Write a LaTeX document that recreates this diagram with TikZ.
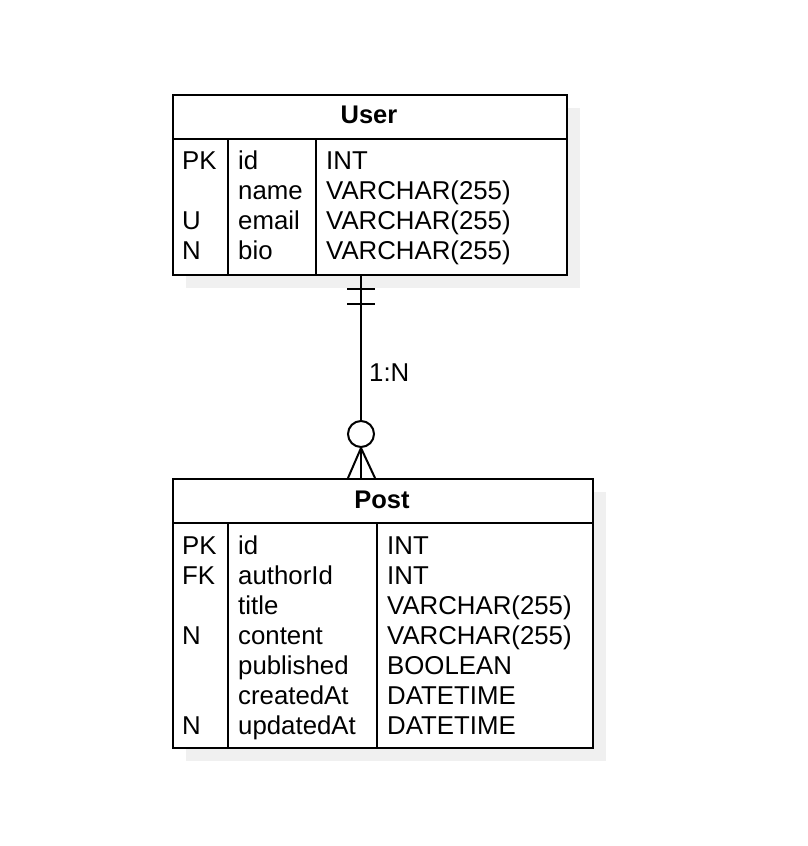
\documentclass[tikz,border=0pt]{standalone}
\usepackage{fontspec}
\setmainfont{Liberation Sans}
\usetikzlibrary{calc}
\definecolor{shadowgray}{RGB}{240,240,240}

\begin{document}
\begin{tikzpicture}[
  x=1pt, y=-1pt,
  entity/.style={draw, line width=2pt, anchor=north west, inner sep=0pt},
  grid/.style={line width=1.5pt},
  title/.style={anchor=base, inner sep=0pt, font=\fontsize{25.5}{30}\selectfont\bfseries},
  cell/.style={anchor=base west, inner sep=0pt, font=\fontsize{25.8}{30}\selectfont},
  rel/.style={line width=2pt},
]
\useasboundingbox (0,0) rectangle (808,846);

% Shadows
\fill[shadowgray] (186,108) rectangle (580,288);
\fill[shadowgray] (186,492) rectangle (606,761);

% Tables
\node[entity, fill=white, minimum width=394pt, minimum height=180pt] (user) at (172,94) {};
\node[entity, fill=white, minimum width=420pt, minimum height=269pt] (post) at (172,478) {};
\node[title] (usertitle) at (369,123) {User};
\node[title] (posttitle) at (382,508) {Post};

\draw[rel] ($(user.north west)+(0,45)$) -- ($(user.north east)+(0,45)$);
\draw[grid] (228,139) -- (228,274);
\draw[grid] (316,139) -- (316,274);
\draw[rel] ($(post.north west)+(0,45)$) -- ($(post.north east)+(0,45)$);
\draw[grid] (228,523) -- (228,747);
\draw[grid] (377,523) -- (377,747);

% Columns
\foreach \k/\n/\t [count=\i from 0] in {PK/id/INT, /name/VARCHAR(255), U/email/VARCHAR(255), N/bio/VARCHAR(255)} {
  \node[cell] (userkey\i) at (182,169+30*\i) {\k};
  \node[cell] (username\i) at (238,169+30*\i) {\n};
  \node[cell] (usertype\i) at (326,169+30*\i) {\t};
}
\foreach \k/\n/\t [count=\i from 0] in {PK/id/INT, FK/authorId/INT, /title/VARCHAR(255), N/content/VARCHAR(255), /published/BOOLEAN, /createdAt/DATETIME, N/updatedAt/DATETIME} {
  \node[cell] (postkey\i) at (182,554+30*\i) {\k};
  \node[cell] (postname\i) at (238,554+30*\i) {\n};
  \node[cell] (posttype\i) at (387,554+30*\i) {\t};
}

% Relation
\path (user.south west) ++(189,0) coordinate (one);
\path (post.north west) ++(189,0) coordinate (many);
\node[circle, draw, line width=2pt, fill=white, minimum size=26pt, inner sep=0pt] (optional) at (361,434) {};
\draw[rel] (one) -- (optional);
\draw[rel] (optional) -- (many);
\draw[rel] (optional.south) -- ($(many)+(-13,0)$);
\draw[rel] (optional.south) -- ($(many)+(14,0)$);
\draw[rel] ($(one)+(-14,13)$) -- ++(28,0);
\draw[rel] ($(one)+(-14,28)$) -- ++(28,0);
\node[cell] (card) at (369,381) {1:N};
\end{tikzpicture}
\end{document}
